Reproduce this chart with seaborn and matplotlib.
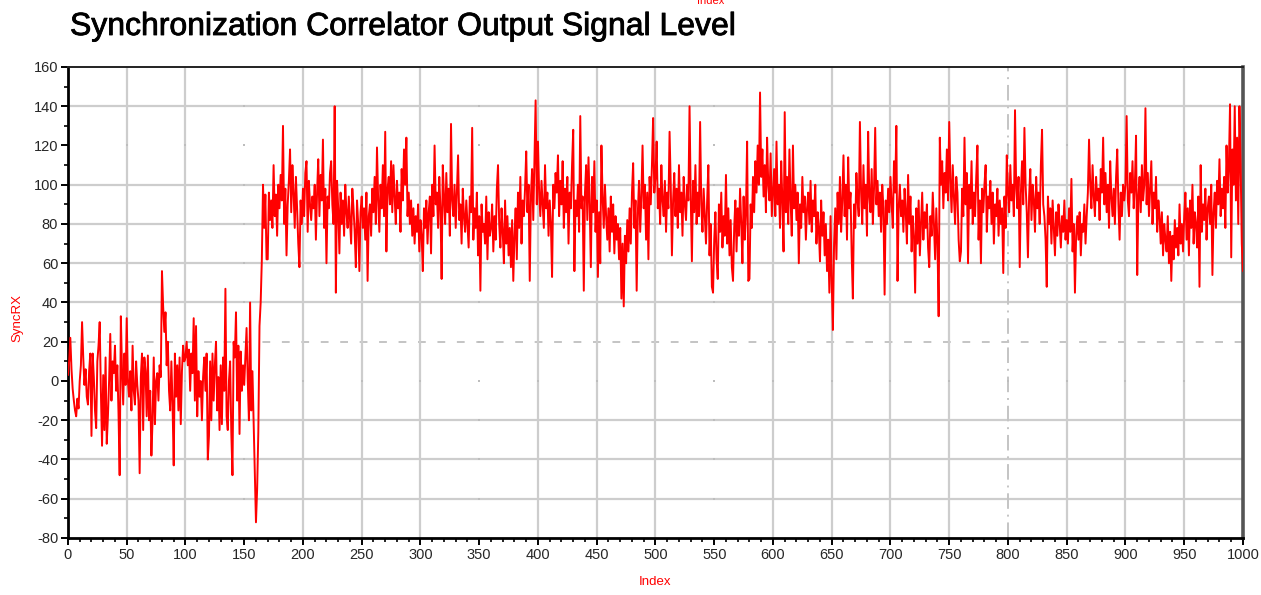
import numpy as np
import pandas as pd
import matplotlib
matplotlib.use("Agg")
import matplotlib.pyplot as plt
import matplotlib.patheffects as pe
from matplotlib.ticker import MultipleLocator
import seaborn as sns

# Correlator output, one list per block of 100 samples
rx_000 = [3, 10, 22, 6, -4, -10, -15, -18, -9, -14,
          0, 8, 30, 12, -2, 6, -8, -12, 5, 14,
          -28, 14, 2, -15, -24, 10, 18, 30, -5, -33,
          3, -25, 12, -32, -18, 0, 24, -10, 10, 4,
          18, -5, 8, -16, -48, 33, 6, -12, 14, -2,
          32, 0, -8, 5, -15, 18, -5, -12, 10, -2,
          -10, -47, 2, 14, -25, 12, 5, -18, 13, -20,
          -5, -38, -20, 12, -22, 0, 4, -10, 8, 2,
          56, 38, 25, 35, 8, 20, -5, -15, 10, -12,
          -43, 14, -8, 8, -15, 12, -22, 5, 18, 10]
rx_100 = [12, 20, 8, 16, -5, 14, 4, 32, -10, 28,
          -18, 5, -8, 0, -20, 2, 12, -5, 14, -40,
          -28, 10, -20, 14, -10, 8, 20, -15, 2, -25,
          8, -22, 12, -5, 47, -18, -25, 0, 10, -26,
          -48, 20, 12, 35, -10, 18, -27, 15, -5, 8,
          -2, 12, 27, 0, -20, 40, -15, 5, -20, -45,
          -72, -55, -26, 28, 40, 62, 100, 78, 95, 62,
          62, 96, 82, 92, 78, 110, 84, 95, 74, 100,
          88, 105, 92, 130, 80, 98, 64, 90, 102, 118,
          86, 110, 96, 78, 104, 88, 70, 58, 92, 80]
rx_200 = [98, 84, 106, 112, 76, 102, 90, 82, 94, 88,
          100, 72, 96, 113, 84, 105, 92, 123, 78, 98,
          60, 94, 88, 106, 112, 90, 80, 140, 45, 102,
          88, 65, 96, 80, 92, 74, 100, 86, 78, 94,
          82, 70, 98, 88, 76, 58, 92, 80, 56, 86,
          94, 78, 88, 72, 96, 51, 84, 90, 74, 98,
          86, 104, 80, 119, 92, 76, 100, 88, 110, 84,
          127, 66, 98, 104, 90, 112, 86, 110, 94, 80,
          102, 88, 96, 76, 108, 92, 118, 100, 124, 84,
          96, 80, 92, 74, 88, 70, 84, 76, 90, 66]
rx_300 = [82, 74, 56, 88, 78, 92, 70, 86, 94, 65,
          100, 84, 120, 90, 96, 78, 104, 88, 52, 110,
          94, 80, 106, 86, 98, 74, 131, 92, 84, 100,
          78, 96, 115, 82, 90, 70, 98, 84, 76, 92,
          80, 68, 94, 86, 129, 72, 88, 78, 96, 64,
          84, 46, 90, 76, 80, 70, 94, 62, 86, 74,
          78, 90, 66, 84, 72, 98, 110, 80, 68, 88,
          76, 60, 92, 70, 84, 64, 78, 58, 82, 51,
          74, 88, 62, 96, 78, 104, 70, 92, 84, 98,
          117, 86, 100, 51, 94, 108, 82, 112, 143, 90]
rx_400 = [122, 96, 84, 102, 90, 78, 110, 88, 96, 74,
          92, 80, 53, 100, 88, 106, 96, 115, 84, 102,
          90, 112, 78, 98, 86, 104, 70, 96, 88, 110,
          128, 56, 92, 84, 100, 76, 135, 88, 94, 46,
          96, 110, 82, 114, 90, 58, 104, 86, 112, 76,
          92, 53, 86, 60, 120, 94, 78, 100, 84, 72,
          88, 66, 94, 76, 90, 65, 84, 72, 80, 62,
          78, 42, 70, 38, 74, 60, 82, 66, 88, 70,
          96, 111, 78, 92, 46, 86, 102, 76, 94, 120,
          88, 100, 72, 96, 62, 104, 90, 110, 134, 96]
rx_500 = [104, 122, 88, 98, 80, 110, 92, 84, 102, 76,
          96, 88, 127, 100, 64, 92, 106, 84, 98, 78,
          110, 86, 96, 74, 104, 90, 82, 100, 92, 140,
          94, 61, 102, 86, 110, 80, 96, 84, 132, 90,
          76, 98, 84, 70, 92, 110, 64, 80, 48, 45,
          72, 86, 62, 52, 90, 76, 96, 68, 84, 74,
          105, 70, 88, 64, 82, 58, 51, 78, 92, 66,
          88, 74, 98, 80, 60, 94, 72, 86, 122, 51,
          52, 90, 78, 104, 86, 112, 96, 120, 100, 147,
          104, 118, 94, 110, 86, 124, 100, 92, 116, 84]
rx_600 = [96, 108, 84, 122, 90, 100, 78, 112, 92, 66,
          137, 86, 104, 80, 118, 92, 74, 120, 88, 100,
          82, 96, 60, 90, 78, 104, 86, 94, 72, 88,
          96, 80, 102, 76, 92, 84, 100, 70, 86, 78,
          61, 92, 74, 86, 64, 80, 56, 72, 45, 84,
          50, 26, 70, 88, 62, 96, 80, 104, 76, 92,
          115, 84, 100, 72, 114, 88, 96, 64, 42, 90,
          78, 106, 92, 84, 132, 96, 80, 110, 88, 100,
          74, 127, 94, 86, 108, 80, 98, 129, 90, 102,
          84, 96, 76, 100, 88, 44, 92, 80, 98, 86]
rx_700 = [104, 90, 78, 112, 96, 130, 51, 88, 100, 84,
          92, 76, 98, 86, 70, 105, 80, 94, 66, 84,
          74, 45, 88, 70, 92, 64, 80, 96, 72, 86,
          78, 90, 68, 58, 84, 74, 96, 80, 62, 88,
          70, 33, 124, 100, 112, 88, 106, 96, 118, 92,
          132, 102, 86, 110, 94, 80, 104, 96, 72, 61,
          66, 98, 84, 124, 90, 106, 60, 100, 88, 112,
          80, 96, 84, 104, 120, 72, 92, 60, 98, 86,
          100, 110, 76, 94, 88, 102, 80, 96, 70, 90,
          84, 98, 74, 92, 80, 88, 55, 94, 78, 115]
rx_800 = [96, 86, 110, 92, 100, 84, 138, 98, 88, 104,
          58, 96, 112, 90, 129, 100, 86, 63, 94, 108,
          82, 100, 92, 76, 104, 88, 96, 80, 110, 128,
          90, 84, 72, 48, 94, 80, 88, 70, 92, 78,
          64, 86, 74, 90, 80, 68, 84, 76, 92, 72,
          82, 70, 88, 76, 103, 66, 80, 45, 74, 84,
          72, 86, 64, 80, 76, 90, 70, 84, 96, 123,
          100, 88, 110, 94, 84, 104, 92, 98, 82, 108,
          96, 124, 90, 106, 86, 100, 78, 112, 94, 84,
          98, 80, 104, 118, 90, 72, 96, 84, 100, 92]
rx_900 = [100, 135, 92, 84, 106, 96, 112, 88, 100, 125,
          54, 94, 104, 86, 110, 92, 100, 139, 90, 106,
          84, 98, 112, 80, 96, 88, 104, 76, 92, 84,
          70, 86, 64, 80, 72, 66, 84, 60, 76, 51,
          74, 62, 82, 68, 78, 64, 90, 70, 80, 66,
          84, 96, 72, 88, 64, 92, 78, 100, 70, 86,
          80, 68, 94, 48, 110, 76, 90, 82, 98, 72,
          88, 94, 80, 100, 54, 86, 96, 78, 102, 90,
          113, 84, 98, 88, 104, 78, 120, 96, 110, 141,
          63, 118, 100, 140, 92, 124, 80, 140, 110, 70]
rx_last = [56]

sync_rx = (rx_000 + rx_100 + rx_200 + rx_300 + rx_400 + rx_500 +
           rx_600 + rx_700 + rx_800 + rx_900 + rx_last)
df = pd.DataFrame({"Index": np.arange(len(sync_rx)), "SyncRX": sync_rx})

sns.set_style("white")
plt.rcParams["font.family"] = ["Liberation Sans", "DejaVu Sans"]
plt.rcParams["axes.unicode_minus"] = False
plt.rcParams["axes.grid"] = False

fig = plt.figure(figsize=(12.61, 5.95), dpi=100)
ax = fig.add_axes([0.0539, 0.0958, 0.9318, 0.7916])
ax.grid(False)

# grid: solid light lines, dashed at 20 and dash-dot at index 800
grid_kw = dict(color="#cdcdcd", lw=1.6, zorder=0)
solid_y = [-60, -40, -20, 40, 60, 80, 100, 140]
solid_x = [50, 100, 200, 250, 300, 400, 450, 500, 600, 650, 700, 750, 850, 900, 950]
for yv in solid_y:
    ax.axhline(yv, **grid_kw)
ax.axhline(20, color="#c4c4c4", lw=1.4, ls=(0, (4, 6)), zorder=0)
for xv in solid_x:
    ax.axvline(xv, **grid_kw)
ax.axvline(800, color="#c4c4c4", lw=1.4, ls=(0, (8, 3, 1, 3)), zorder=0)

# small grey dots where the faint grid rows/columns cross
faint_x = [150, 350, 550]
faint_y = [0, 120]
dot_x, dot_y = [], []
for xv in faint_x:
    for yv in solid_y + [20] + faint_y:
        dot_x.append(xv)
        dot_y.append(yv)
for yv in faint_y:
    for xv in solid_x + [800]:
        dot_x.append(xv)
        dot_y.append(yv)
ax.scatter(dot_x, dot_y, s=3, marker="s", color="#bdbdbd", lw=0, zorder=1)

sns.lineplot(data=df, x="Index", y="SyncRX", ax=ax, color="#ff0000",
             lw=1.4, estimator=None, zorder=3)

ax.set_xlim(0, 1000)
ax.set_ylim(-80, 160)
ax.xaxis.set_major_locator(MultipleLocator(50))
ax.xaxis.set_minor_locator(MultipleLocator(10))
ax.yaxis.set_major_locator(MultipleLocator(20))
ax.yaxis.set_minor_locator(MultipleLocator(10))
ax.tick_params(axis="both", which="major", direction="out", length=5,
               width=1.4, color="black", labelsize=10.5, pad=2)
ax.tick_params(axis="both", which="minor", direction="out", length=3,
               width=1.2, color="black")
ax.tick_params(axis="x", which="both", bottom=True, top=False)
ax.tick_params(axis="y", which="both", left=True, right=False)

for side in ["left", "bottom"]:
    ax.spines[side].set_linewidth(2.0)
    ax.spines[side].set_color("black")
ax.spines["top"].set_linewidth(1.4)
ax.spines["top"].set_color("#222222")
ax.spines["right"].set_linewidth(2.6)
ax.spines["right"].set_color("#555555")

ax.set_xlabel("")
ax.set_ylabel("")
fig.text(655 / 1261, 1 - 582 / 595, "Index", color="red", fontsize=9.5,
         ha="center", va="center")
fig.text(17 / 1261, 1 - 318 / 595, "SyncRX", color="red", fontsize=9.5,
         rotation=90, ha="center", va="center")
fig.text(711 / 1261, 1 - 1 / 595, "Index", color="red", fontsize=8,
         ha="center", va="center")
fig.text(70 / 1261, 1 - 27 / 595, "Synchronization Correlator Output Signal Level",
         color="black", fontsize=23, ha="left", va="center",
         path_effects=[pe.withStroke(linewidth=0.6, foreground="black")])

fig.savefig("out.png", dpi=100)
